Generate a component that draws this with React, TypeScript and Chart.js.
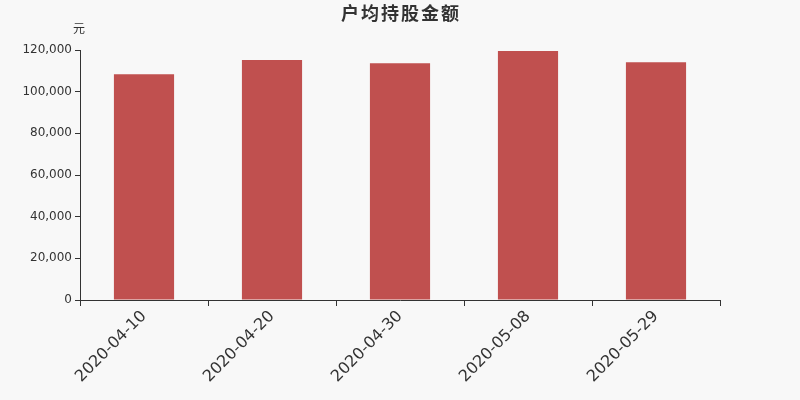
import { useEffect, useRef } from 'react';
import { Chart, registerables } from 'chart.js';

Chart.register(...registerables);

const categories = ['2020-04-10', '2020-04-20', '2020-04-30', '2020-05-08', '2020-05-29'];
const amounts = [108400, 115200, 113700, 119500, 114100];
const yTicks = [0, 20000, 40000, 60000, 80000, 100000, 120000];
const titleText = '户均持股金额';
const unitText = '元';

const textPlugin = {
  id: 'headerText',
  afterDraw(chart: Chart) {
    const ctx = chart.ctx as any;
    ctx.save();
    ctx.fillStyle = '#333';
    ctx.textAlign = 'center';
    ctx.textBaseline = 'middle';
    ctx.font = 'bold 18px "Noto Sans CJK SC", sans-serif';
    ctx.letterSpacing = '2px';
    ctx.fillText(titleText, 401, 13);
    ctx.letterSpacing = '0px';
    ctx.font = '12px "Noto Sans CJK SC", sans-serif';
    ctx.fillText(unitText, 79, 28);
    ctx.restore();
  },
};

export default function App() {
  const chartRef = useRef<HTMLCanvasElement>(null);

  useEffect(() => {
    document.body.style.margin = '0';
    document.body.style.background = '#f8f8f8';
    if (!chartRef.current) return;

    const chart = new Chart(chartRef.current, {
      type: 'bar',
      data: {
        labels: categories,
        datasets: [{
          data: amounts,
          backgroundColor: '#c0504f',
          barPercentage: 0.47,
          categoryPercentage: 1,
        }],
      },
      plugins: [textPlugin],
      options: {
        animation: false,
        responsive: false,
        layout: { padding: { top: 50, left: 0, right: 80, bottom: 0 } },
        plugins: {
          legend: { display: false },
          tooltip: { enabled: false },
        },
        scales: {
          x: {
            grid: {
              display: true,
              drawOnChartArea: false,
              offset: true,
              tickLength: 6,
              color: '#333',
            },
            border: { color: '#333' },
            ticks: {
              color: '#333',
              font: { size: 16, family: 'DejaVu Sans' },
              minRotation: 45,
              maxRotation: 45,
              padding: 1,
            },
            afterFit: (scale: any) => { scale.height = 100; },
          },
          y: {
            min: 0,
            max: 120000,
            afterBuildTicks: (scale: any) => {
              scale.ticks = yTicks.map((v) => ({ value: v }));
            },
            grid: {
              display: true,
              drawOnChartArea: false,
              tickLength: 5,
              color: '#333',
            },
            border: { color: '#333' },
            ticks: {
              color: '#333',
              font: { size: 12, family: 'DejaVu Sans' },
              padding: 3,
              callback: (v: any) => Number(v).toLocaleString('en-US'),
            },
            afterFit: (scale: any) => { scale.width = 80; },
          },
        },
      },
    });

    return () => chart.destroy();
  }, []);

  return (
    <div style={{ width: 800, height: 400, background: '#f8f8f8' }}>
      <canvas ref={chartRef} width={800} height={400} />
    </div>
  );
}
